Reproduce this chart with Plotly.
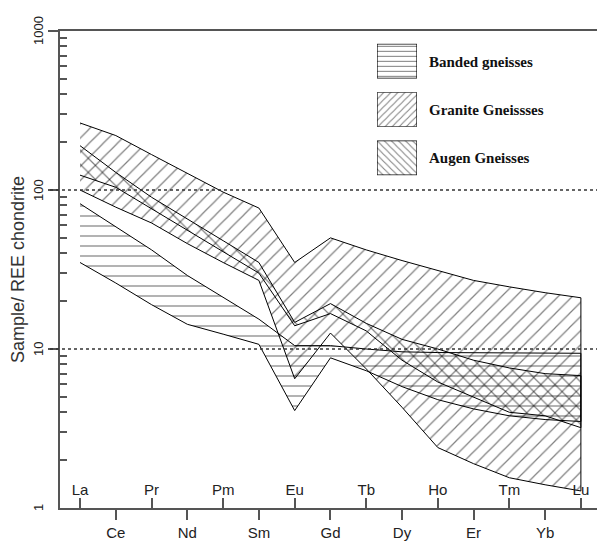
import math
import plotly.graph_objects as go

# REE order and chondrite-normalised envelopes for each gneiss group
elements = ["La", "Ce", "Pr", "Nd", "Pm", "Sm", "Eu", "Gd", "Tb", "Dy", "Ho", "Er", "Tm", "Yb", "Lu"]
pos = list(range(1, len(elements) + 1))

banded_upper = [82, 59, 42, 29, 21, 15.4, 10.5, 10.5, 10.0, 9.6, 9.5, 9.5, 9.5, 9.5, 9.4]
banded_lower = [35, 26, 19, 14.3, 12.4, 10.7, 4.1, 8.8, 7.3, 5.8, 4.8, 4.2, 3.8, 3.6, 3.5]

granite_upper = [264, 220, 167, 128, 97, 77, 35, 50, 42, 36, 31, 27, 24.6, 22.6, 21]
granite_lower = [100, 78, 62, 46, 35, 27, 6.5, 12.6, 7.5, 4.3, 2.4, 1.9, 1.55, 1.4, 1.28]

augen_upper = [190, 129, 90, 66, 48, 35, 14.7, 19.3, 14.5, 11.5, 10, 8.5, 7.6, 7.0, 6.8]
augen_lower = [124, 104, 77, 56, 41, 30, 14, 16.7, 13, 8.5, 6.2, 5.0, 4.0, 3.8, 3.2]

# y-axis decades
y_ticks = [1, 10, 100, 1000]

groups = [
    ("Banded gneisses", banded_upper, banded_lower, "-"),
    ("Granite Gneissses", granite_upper, granite_lower, "/"),
    ("Augen Gneisses", augen_upper, augen_lower, "\\"),
]

fig = go.Figure()

for name, up, lo, shape in groups:
    fig.add_trace(go.Scatter(
        x=pos + pos[::-1],
        y=up + lo[::-1],
        mode="lines",
        fill="toself",
        fillcolor="rgba(0,0,0,0)",
        fillpattern=dict(shape=shape, size=10, solidity=0.12, fgcolor="black"),
        line=dict(color="black", width=1),
        name=name,
        showlegend=False,
        hoverinfo="skip",
    ))

# legend swatches, each on its own tiny axes
W, H = 597, 541
ml, mr, mt, mb = 60, 0, 31, 27
pw, ph = W - ml - mr, H - mt - mb

def px_x(v):
    return (v - ml) / pw

def px_y(v):
    return (H - mb - v) / ph

swatch_tops = [44, 93, 142]
for i, ((name, _, _, shape), top) in enumerate(zip(groups, swatch_tops)):
    k = i + 3
    fig.add_trace(go.Scatter(
        x=[0, 1, 1, 0, 0], y=[0, 0, 1, 1, 0],
        mode="lines", fill="toself", fillcolor="rgba(0,0,0,0)",
        fillpattern=dict(shape=shape, size=5, solidity=0.2, fgcolor="black"),
        line=dict(color="black", width=1.2),
        xaxis=f"x{k}", yaxis=f"y{k}", showlegend=False, hoverinfo="skip",
    ))
    fig.update_layout({
        f"xaxis{k}": dict(domain=[px_x(377), px_x(417)], range=[0, 1], visible=False,
                          anchor=f"y{k}", fixedrange=True),
        f"yaxis{k}": dict(domain=[px_y(top + 35), px_y(top)], range=[0, 1], visible=False,
                          anchor=f"x{k}", fixedrange=True),
    })
    fig.add_annotation(
        x=px_x(427), y=px_y(top + 18), xref="paper", yref="paper",
        text=f"<b>{name}</b>", showarrow=False, xanchor="left", yanchor="middle",
        font=dict(family="Liberation Serif", size=15, color="#111"),
    )

axis_col = "#555"

# dotted reference lines at 10 and 100
for v in (10, 100):
    fig.add_shape(type="line", xref="paper", yref="y", x0=px_x(50), x1=1,
                  y0=v, y1=v, line=dict(color="#333", width=1.5, dash="dot"))

# rotated decade labels beside the y axis (annotation y is in log units on a log axis)
for v in y_ticks:
    fig.add_annotation(
        x=px_x(38), y=math.log10(v), xref="paper", yref="y", text=str(v), textangle=-90,
        showarrow=False, xanchor="center", yanchor="middle",
        font=dict(size=13, color="#222"),
    )

fig.update_layout(
    width=W, height=H,
    margin=dict(l=ml, r=mr, t=mt, b=mb),
    paper_bgcolor="white", plot_bgcolor="white",
    font=dict(family="Liberation Sans", color="#222"),
    xaxis=dict(
        range=[0.44, 15.45], showgrid=False, zeroline=False,
        showline=True, linecolor=axis_col, linewidth=2, mirror=True,
        tickmode="array", tickvals=pos[1::2], ticktext=elements[1::2],
        ticks="outside", ticklen=10, tickwidth=1.5, tickcolor=axis_col,
        tickfont=dict(size=15, color="#222"),
    ),
    xaxis2=dict(
        range=[0.44, 15.45], overlaying="x", anchor="y", side="bottom",
        showgrid=False, zeroline=False, showline=False,
        tickmode="array", tickvals=pos[0::2], ticktext=elements[0::2],
        ticks="inside", ticklen=10, tickwidth=1.5, tickcolor=axis_col,
        ticklabelposition="inside", tickfont=dict(size=15, color="#222"),
    ),
    yaxis=dict(
        type="log", range=[0, 3], showgrid=False, zeroline=False,
        showline=True, linecolor=axis_col, linewidth=2,
        tickmode="array", tickvals=y_ticks, showticklabels=False,
        ticks="outside", ticklen=10, tickwidth=1.5, tickcolor=axis_col,
        minor=dict(ticks="inside", ticklen=7, tickwidth=1.5, tickcolor=axis_col,
                   tickmode="array",
                   tickvals=[m * d for d in (1, 10, 100) for m in range(2, 10)]),
        title=dict(text="Sample/ REE chondrite", font=dict(size=18, color="#333"), standoff=19),
    ),
)

# an invisible trace to bring the overlay axis into the figure
fig.add_trace(go.Scatter(x=[pos[0]], y=[1], xaxis="x2", yaxis="y", mode="markers",
                         marker=dict(opacity=0), showlegend=False, hoverinfo="skip"))

fig.write_html("out.html")
